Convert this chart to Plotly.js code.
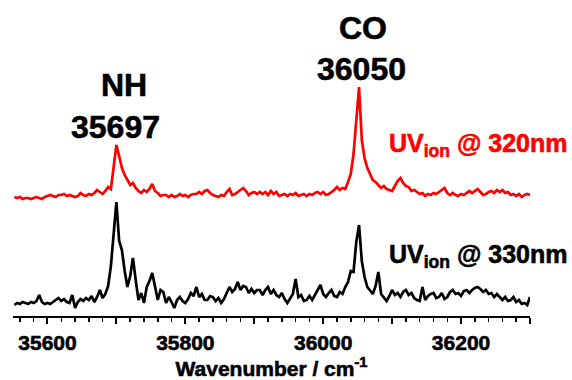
<!DOCTYPE html>
<html>
<head>
<meta charset="utf-8">
<script src="https://cdn.plot.ly/plotly-3.0.1.min.js"></script>
<style>
html,body{margin:0;padding:0;background:#fff;}
#chart{width:572px;height:380px;}
</style>
</head>
<body>
<div id="chart"></div>
<script>
// Wavenumber grid: first point and spacing (cm^-1)
var waveStart = 35552;
var waveStep = 4;

// Spectrum ionised at 320 nm (red, offset upward)
var uv320 = [
119,118,119,117,118,118,117,118,119,118,117,119,120,121,120,119,121,121,122,120,
121,120,119,120,123,121,120,122,121,123,126,124,122,125,129,127,148,171,160,148,
141,136,131,133,128,125,123,126,124,127,132,125,123,120,121,121,119,121,119,120,
122,120,121,119,121,122,122,124,122,125,126,123,121,120,119,121,120,124,127,121,
122,124,126,128,125,121,123,124,122,124,122,124,121,125,122,124,120,121,122,120,
122,121,123,120,121,122,120,122,121,123,124,122,124,121,122,124,126,129,126,128,
127,134,142,162,200,229,176,158,148,141,136,134,131,128,130,127,126,125,130,135,
138,133,130,129,125,126,124,122,123,120,122,121,123,122,124,126,128,123,121,123,
121,120,122,121,123,125,123,125,127,124,121,122,124,125,123,126,124,126,123,124,
121,122,120,122,119,121,122,121
];

// Spectrum ionised at 330 nm (black)
var uv330 = [
11,13,12,14,13,12,14,13,15,21,14,12,13,12,14,16,18,15,17,14,
13,21,8,14,17,15,18,16,20,14,19,26,18,22,30,50,85,114,75,66,
45,29,40,58,36,16,23,13,29,35,43,29,16,26,24,13,19,14,8,16,
19,15,13,17,23,20,29,19,22,16,16,20,19,15,18,13,17,23,29,24,
27,34,26,30,29,23,27,23,26,26,21,26,29,22,26,21,19,23,17,13,
18,22,37,19,21,15,16,20,16,21,25,31,22,19,23,26,20,19,24,22,
29,34,45,44,74,91,55,39,29,26,22,30,44,22,18,15,20,26,21,23,
19,24,26,21,23,18,16,15,29,16,20,22,23,18,19,23,17,19,24,26,
22,23,20,25,26,23,26,28,29,27,24,26,22,23,19,22,19,16,19,15,
16,19,14,16,12,13,11,19
];

// Axis ticks
var tickStart = 35600;
var tickStep = 100;
var minorStep = 20;

// Peak labels
var peakNames = ['NH','CO'];
var peakWaves = ['35697','36050'];
var peakPos = [35697, 36050];

// Series labels
var seriesLabels = ['UV<sub>ion</sub> @ 320nm', 'UV<sub>ion</sub> @ 330nm'];
var seriesColors = ['#ff0000', '#000000'];

var FONT = 'Liberation Sans, Arial, sans-serif';

var traces = [
  {type:'scatter', mode:'lines', y: uv320, x0: waveStart, dx: waveStep,
   line:{color: seriesColors[0], width:2.7}, hoverinfo:'skip'},
  {type:'scatter', mode:'lines', y: uv330, x0: waveStart, dx: waveStep,
   line:{color: seriesColors[1], width:2.7}, hoverinfo:'skip'}
];

var annFont = {family: FONT, size: 32, color:'#000', weight:'bold'};
var annotations = [
  {x: peakPos[0]+14, y: 231, xref:'x', yref:'y', text: '<b>'+peakNames[0]+'</b>', showarrow:false, font: annFont},
  {x: peakPos[0]+1, y: 189, xref:'x', yref:'y', text: '<b>'+peakWaves[0]+'</b>', showarrow:false, font: annFont},
  {x: peakPos[1]+8, y: 288, xref:'x', yref:'y', text: '<b>'+peakNames[1]+'</b>', showarrow:false, font: annFont},
  {x: peakPos[1]+5, y: 247, xref:'x', yref:'y', text: '<b>'+peakWaves[1]+'</b>', showarrow:false, font: annFont},
  {x: 1.075, y: 171, xref:'paper', yref:'y', xanchor:'right', text: '<b>'+seriesLabels[0]+'</b>', showarrow:false,
   font:{family: FONT, size: 25, color: seriesColors[0], weight:'bold'}},
  {x: 1.075, y: 60, xref:'paper', yref:'y', xanchor:'right', text: '<b>'+seriesLabels[1]+'</b>', showarrow:false,
   font:{family: FONT, size: 25, color: seriesColors[1], weight:'bold'}}
];

var layout = {
  width: 572, height: 380,
  margin: {l: 12.5, r: 42, t: 0, b: 64},
  paper_bgcolor: '#fff', plot_bgcolor: '#fff',
  showlegend: false,
  xaxis: {
    range: [35550, 36300], fixedrange: true,
    showgrid: false, zeroline: false,
    showline: true, linecolor: '#000', linewidth: 2,
    ticks: 'outside', ticklen: 6, tickwidth: 2, tickcolor: '#000',
    tickmode: 'linear', tick0: tickStart, dtick: tickStep, ticklabelstep: 2,
    ticklabelstandoff: 1,
    minor: {dtick: minorStep, tick0: tickStart, ticks: 'outside', ticklen: 4, tickwidth: 1.5, tickcolor:'#000', showgrid:false},
    tickfont: {family: FONT, size: 21, color: '#000', weight: 'bold'},
    tickformat: 'd',
    title: {text: '<b>Wavenumber / cm<sup>-1</sup></b>', standoff: 7,
            font: {family: FONT, size: 21, color: '#000', weight: 'bold'}}
  },
  yaxis: {range: [0, 316], visible: false, fixedrange: true},
  annotations: annotations
};

Plotly.newPlot('chart', traces, layout, {displayModeBar: false, staticPlot: true}).then(function(gd){
  // slightly heavier text strokes, like the reference rendering
  var sel = gd.querySelectorAll('g.xtick text, g.g-xtitle text, text.annotation-text');
  for (var i = 0; i < sel.length; i++) {
    var t = sel[i];
    var fill = t.style.fill || '#000';
    t.style.stroke = fill;
    t.style.strokeWidth = '0.6px';
  }
});
</script>
</body>
</html>
